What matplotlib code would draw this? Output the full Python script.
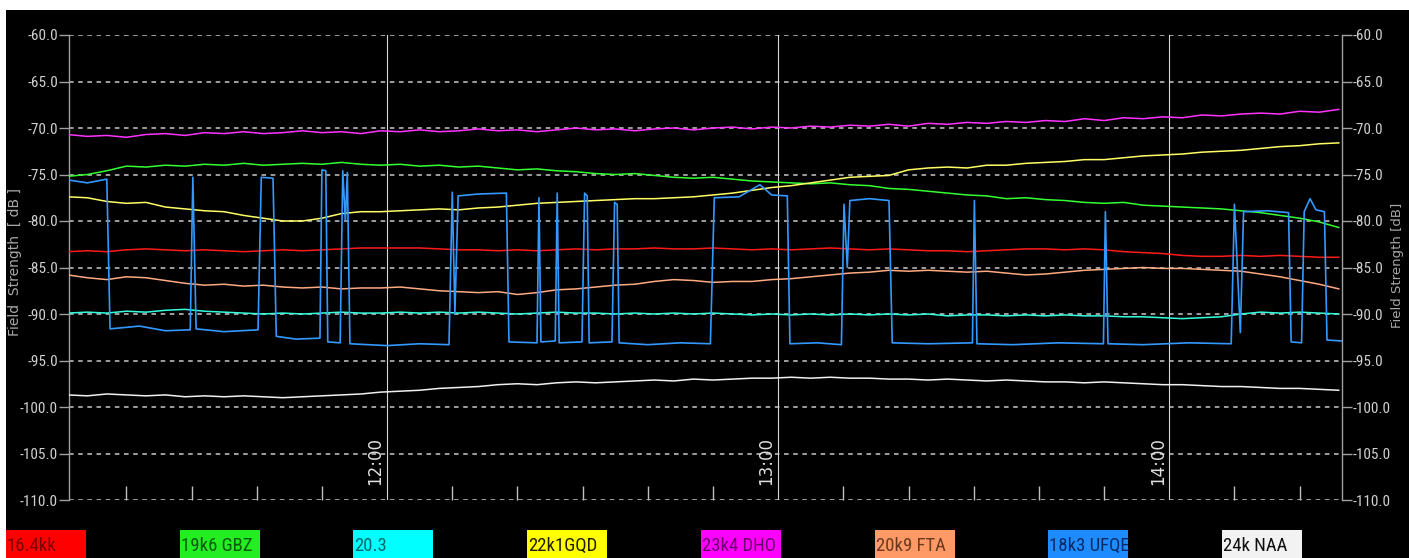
import matplotlib.pyplot as plt
from matplotlib import font_manager as fm
from matplotlib.patches import Rectangle

# minutes after 11:00, one sample every 3 minutes
minutes = [11, 14, 17, 20, 23, 26, 29, 32, 35, 38, 41, 44, 47, 50, 53, 56, 59, 62, 65, 68,
           71, 74, 77, 80, 83, 86, 89, 92, 95, 98, 101, 104, 107, 110, 113, 116, 119, 122,
           125, 128, 131, 134, 137, 140, 143, 146, 149, 152, 155, 158, 161, 164, 167, 170,
           173, 176, 179, 182, 185, 188, 191, 194, 197, 200, 203, 206]

red_16k4 = [-83.3, -83.2, -83.3, -83.1, -83.0, -83.1, -83.2, -83.1, -83.2, -83.3, -83.2, -83.1,
            -83.2, -83.1, -83.0, -82.9, -82.9, -82.9, -82.9, -83.0, -83.1, -83.1, -83.2, -83.1,
            -83.2, -83.1, -83.0, -83.1, -83.0, -83.0, -82.9, -83.0, -83.0, -82.9, -83.0, -83.1,
            -83.0, -83.1, -83.0, -82.9, -83.0, -83.1, -83.0, -83.1, -83.2, -83.2, -83.3, -83.2,
            -83.1, -83.0, -83.0, -83.1, -83.0, -83.1, -83.3, -83.4, -83.5, -83.7, -83.8, -83.8,
            -83.7, -83.8, -83.7, -83.8, -83.9, -83.9]

green_gbz = [-75.2, -75.0, -74.6, -74.1, -74.2, -74.0, -74.1, -73.9, -74.0, -73.8, -74.0, -73.9,
             -73.8, -73.9, -73.7, -73.9, -74.0, -73.9, -74.1, -74.0, -74.2, -74.1, -74.3, -74.5,
             -74.4, -74.6, -74.7, -74.9, -75.0, -74.9, -75.1, -75.3, -75.4, -75.3, -75.5, -75.7,
             -75.8, -75.9, -76.0, -75.9, -76.1, -76.2, -76.5, -76.6, -76.8, -77.0, -77.2, -77.3,
             -77.6, -77.5, -77.7, -77.8, -78.0, -78.1, -78.0, -78.3, -78.4, -78.5, -78.6, -78.7,
             -78.9, -79.1, -79.4, -79.7, -80.1, -80.7]

cyan_20k3 = [-89.9, -89.8, -89.9, -89.7, -89.8, -89.6, -89.5, -89.7, -89.8, -89.9, -90.0, -89.9,
             -90.0, -89.9, -89.8, -89.9, -89.9, -89.8, -89.9, -89.8, -89.9, -89.8, -89.9, -90.0,
             -89.9, -89.8, -89.9, -89.9, -90.0, -89.9, -90.0, -89.9, -90.0, -89.9, -90.0, -90.1,
             -90.0, -90.1, -90.0, -90.1, -90.0, -90.1, -90.0, -90.1, -90.0, -90.2, -90.1, -90.1,
             -90.2, -90.1, -90.2, -90.1, -90.2, -90.2, -90.3, -90.3, -90.4, -90.5, -90.4, -90.3,
             -90.0, -89.8, -89.9, -89.8, -89.9, -90.0]

yellow_gqd = [-77.4, -77.5, -77.9, -78.1, -78.0, -78.5, -78.7, -78.9, -79.0, -79.4, -79.7, -80.0,
              -80.0, -79.7, -79.2, -79.0, -79.0, -78.9, -78.8, -78.7, -78.8, -78.6, -78.5, -78.3,
              -78.1, -78.0, -77.9, -77.8, -77.7, -77.6, -77.6, -77.5, -77.4, -77.2, -77.0, -76.7,
              -76.4, -76.2, -75.9, -75.6, -75.3, -75.2, -75.1, -74.5, -74.3, -74.2, -74.3, -74.0,
              -74.0, -73.8, -73.7, -73.6, -73.4, -73.4, -73.2, -73.0, -72.9, -72.8, -72.6, -72.5,
              -72.4, -72.2, -72.0, -71.9, -71.7, -71.6]

magenta_dho = [-70.7, -70.9, -70.8, -71.0, -70.7, -70.6, -70.8, -70.5, -70.6, -70.4, -70.6, -70.5,
               -70.3, -70.5, -70.4, -70.6, -70.3, -70.4, -70.2, -70.4, -70.3, -70.1, -70.3, -70.2,
               -70.4, -70.2, -70.0, -70.2, -70.1, -70.3, -70.1, -70.0, -70.2, -70.0, -69.9, -70.1,
               -69.9, -70.0, -69.8, -69.9, -69.7, -69.8, -69.6, -69.8, -69.5, -69.6, -69.4, -69.5,
               -69.3, -69.4, -69.2, -69.3, -69.0, -69.2, -68.9, -69.0, -68.8, -68.9, -68.6, -68.7,
               -68.5, -68.4, -68.5, -68.2, -68.3, -68.0]

orange_fta = [-85.8, -86.1, -86.3, -86.0, -86.1, -86.4, -86.7, -86.9, -86.8, -87.0, -86.9, -87.1,
              -87.2, -87.1, -87.3, -87.2, -87.2, -87.1, -87.3, -87.5, -87.6, -87.7, -87.6, -87.9,
              -87.7, -87.4, -87.3, -87.1, -86.9, -86.8, -86.5, -86.3, -86.4, -86.6, -86.5, -86.5,
              -86.3, -86.2, -86.0, -85.8, -85.6, -85.5, -85.3, -85.4, -85.3, -85.4, -85.5, -85.4,
              -85.6, -85.8, -85.7, -85.5, -85.3, -85.2, -85.1, -85.0, -85.1, -85.1, -85.2, -85.3,
              -85.4, -85.7, -86.0, -86.4, -86.8, -87.3]

white_naa = [-98.7, -98.8, -98.6, -98.7, -98.8, -98.7, -98.9, -98.8, -98.9, -98.8, -98.9, -99.0,
             -98.9, -98.8, -98.7, -98.6, -98.4, -98.3, -98.2, -98.0, -97.9, -97.8, -97.6, -97.5,
             -97.6, -97.4, -97.3, -97.4, -97.3, -97.2, -97.1, -97.2, -97.0, -97.1, -97.0, -96.9,
             -96.9, -96.8, -96.9, -96.8, -96.9, -96.9, -97.0, -97.0, -97.1, -97.0, -97.1, -97.2,
             -97.1, -97.2, -97.3, -97.3, -97.4, -97.3, -97.4, -97.5, -97.6, -97.6, -97.7, -97.8,
             -97.8, -97.9, -98.0, -98.0, -98.1, -98.2]

# 18k3 UFQE switches on and off, so it has its own time points
ufqe_minutes = [11.2, 14, 17.0, 17.5, 22, 26, 29.8, 30.2, 30.7, 35, 40.2, 40.7, 42.5, 43.0, 46,
                49.7, 50.0, 50.6, 50.9, 52.8, 53.2, 53.6, 53.9, 54.3, 60, 65, 69.5, 70.0, 70.4,
                70.9, 74, 78.3, 78.7, 83.0, 83.3, 83.6, 85.8, 86.1, 86.4, 89.9, 90.3, 90.7, 91.0,
                94.5, 94.9, 95.3, 95.6, 100, 105, 109.6, 110.2, 114, 117.2, 119, 121.4, 121.8,
                126, 129.7, 130.1, 130.6, 131.0, 134, 137.0, 137.5, 143, 149.8, 150.1, 150.5,
                156, 163, 169.9, 170.2, 170.6, 176, 183, 189.5, 190.0, 190.9, 191.4, 195, 198.3,
                198.7, 200.3, 200.7, 201.6, 202.5, 203.8, 204.2, 206.5]
blue_ufqe = [-75.6, -75.9, -75.5, -91.6, -91.3, -91.8, -91.7, -75.3, -91.6, -91.9, -91.7, -75.3,
             -75.4, -92.4, -92.7, -92.6, -74.5, -74.6, -93.0, -93.1, -74.6, -80.0, -74.8, -93.2,
             -93.4, -93.2, -93.3, -76.9, -90.0, -77.3, -77.1, -77.0, -93.0, -93.1, -77.5, -93.0,
             -92.9, -77.0, -93.1, -93.0, -77.0, -77.3, -93.1, -93.0, -78.0, -78.2, -93.1, -93.3,
             -93.1, -93.2, -77.5, -77.4, -76.1, -77.2, -77.3, -93.2, -93.1, -93.3, -78.2, -85.0,
             -77.8, -77.6, -77.8, -93.1, -93.2, -93.1, -77.8, -93.2, -93.3, -93.1, -93.2, -79.0,
             -93.2, -93.3, -93.1, -93.2, -78.2, -92.0, -79.0, -78.9, -79.1, -93.0, -93.1, -79.0,
             -77.6, -78.8, -79.0, -92.8, -92.9]

legend_names = ['16.4kk', '19k6 GBZ', '20.3', '22k1GQD', '23k4 DHO', '20k9 FTA', '18k3 UFQE', '24k NAA']
box_colors = ['#ff0000', '#22ee22', '#00ffff', '#ffff00', '#ff00ff', '#ff9966', '#1e8cff', '#f2f2f2']
text_colors = ['#7a0000', '#0b5a0b', '#006a6a', '#202000', '#6a006a', '#6a3a20', '#0a2a66', '#101010']
line_colors = ['#ff1a1a', '#33ff33', '#33ffdd', '#ffff66', '#ff33ff', '#ffaa80', '#3399ff', '#f0f0f0']

hour_ticks = [60, 120, 180]
hour_labels = ['12:00', '13:00', '14:00']
y_ticks = [-60, -65, -70, -75, -80, -85, -90, -95, -100, -105, -110]


def narrow_font():
    # the labels in the original use a squeezed typeface; take the narrowest one installed
    for fam in ['Liberation Sans Narrow', 'Roboto Condensed', 'Open Sans Condensed']:
        try:
            fm.findfont(fm.FontProperties(family=fam), fallback_to_default=False)
            return fm.FontProperties(family=fam), True
        except ValueError:
            pass
    prop = fm.FontProperties(family='DejaVu Sans', stretch='condensed')
    if 'Condensed' in fm.findfont(prop):
        return prop, True
    return fm.FontProperties(family='Liberation Sans'), False


narrow, is_narrow = narrow_font()
W, H = 1409, 558

fig = plt.figure(figsize=(W / 100, H / 100), dpi=100, facecolor='white')
fig.patches.append(Rectangle((6 / W, 0), 1, (H - 10) / H, transform=fig.transFigure,
                             facecolor='black', edgecolor='none', zorder=-10))

ax = fig.add_axes([69 / W, 1 - 500 / H, (1342 - 69) / W, 465 / H])
ax.set_facecolor('black')

series = [red_16k4, green_gbz, cyan_20k3, yellow_gqd, magenta_dho, orange_fta, None, white_naa]
for i, vals in enumerate(series):
    if vals is None:
        ax.plot(ufqe_minutes, blue_ufqe, color=line_colors[i], lw=1.2, zorder=5)
    else:
        ax.plot(minutes, vals, color=line_colors[i], lw=1.1, zorder=4)

ax.set_xlim(11.2, 206.5)
ax.set_ylim(-110, -60)

# horizontal dashed grid
for y in y_ticks:
    ax.axhline(y, color='#c8c8c8', lw=1.1, ls=(0, (3, 3)), zorder=1)
for t in hour_ticks:
    ax.axvline(t, color='#d8d8d8', lw=0.8, zorder=2)

tick_size = 11 if is_narrow else 10.5
ax.set_yticks(y_ticks)
ax.set_yticklabels(['%.1f' % v for v in y_ticks])
ax.tick_params(axis='y', which='both', left=True, right=True, labelleft=True, labelright=True,
               direction='out', length=7, width=1, color='#a0a0a0', labelcolor='#d0d0d0',
               pad=1)
for tick in ax.yaxis.get_major_ticks():
    for lab in (tick.label1, tick.label2):
        lab.set_fontproperties(narrow)
        lab.set_fontsize(tick_size)

ax.set_xticks(hour_ticks)
ax.set_xticklabels([])
ax.set_xticks([t for t in range(20, 206, 10) if t not in hour_ticks], minor=True)
ax.tick_params(axis='x', which='major', length=0)
ax.tick_params(axis='x', which='minor', direction='in', length=10, width=1, color='#c0c0c0')

for t, lab in zip(hour_ticks, hour_labels):
    ax.text(t - 0.4, -108.4, lab, rotation=90, ha='right', va='bottom', color='#e0e0e0',
            fontsize=12, zorder=6)

for side in ['top', 'bottom']:
    ax.spines[side].set_visible(False)
for side in ['left', 'right']:
    ax.spines[side].set_color('#a0a0a0')
    ax.spines[side].set_linewidth(1)

fig.text(15 / W, 1 - 262 / H, 'Field  Strength  [ dB ]', rotation=90, ha='center', va='center',
         color='#a8a8a8', fontsize=10)
fig.text(1397 / W, 1 - 265 / H, 'Field Strength [dB]', rotation=90, ha='center', va='center',
         color='#a8a8a8', fontsize=9.5)

# colour key along the bottom
box_left = [6, 180, 353, 527, 701, 875, 1048, 1222]
key_size = 13.5 if is_narrow else 11.5
for x0, name, bc, tc in zip(box_left, legend_names, box_colors, text_colors):
    fig.patches.append(Rectangle((x0 / W, 0), 80 / W, 28 / H, transform=fig.transFigure,
                                 facecolor=bc, edgecolor='none'))
    fig.text((x0 + 1) / W, 12 / H, name, ha='left', va='center', color=tc,
             fontproperties=narrow, fontsize=key_size)

fig.savefig('out.png', dpi=100, facecolor=fig.get_facecolor())
